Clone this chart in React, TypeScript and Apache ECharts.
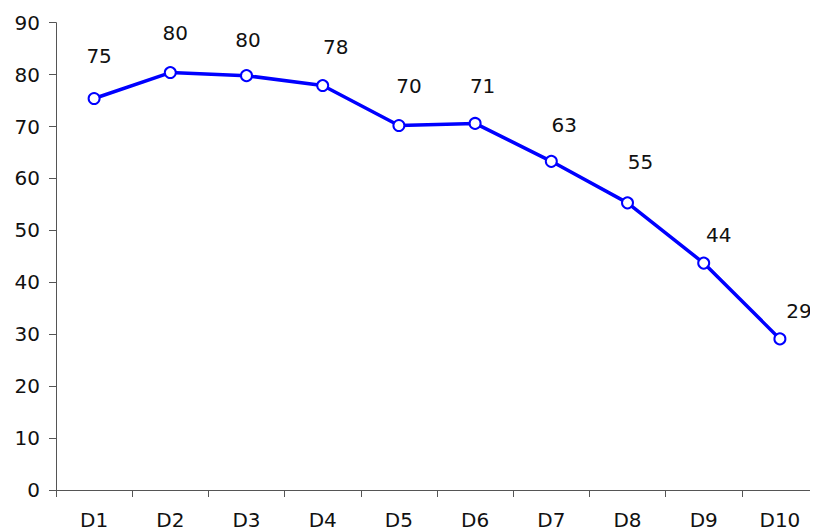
import React, { useEffect, useRef } from "react";
import * as echarts from "echarts";

const categories = ["D1", "D2", "D3", "D4", "D5", "D6", "D7", "D8", "D9", "D10"];
const values = [75.4, 80.4, 79.8, 77.9, 70.2, 70.6, 63.3, 55.3, 43.7, 29.1];
const yTicks = { min: 0, max: 90, interval: 10 };
// label offsets relative to each point (style only)
const labelOffsets: [number, number][] = [
  [5, -43], [5, -40], [1.5, -36], [13, -39], [10, -40],
  [7.5, -37], [13, -36], [13, -41], [15, -28], [19, -28],
];

export default function App() {
  const ref = useRef<HTMLDivElement>(null);
  useEffect(() => {
    if (!ref.current) return;
    const chart = echarts.init(ref.current, null, { renderer: "svg" });
    const font = "DejaVu Sans";
    chart.setOption({
      animation: false,
      grid: { left: 48, right: -10, top: 14.7, bottom: 38.3, containLabel: false },
      xAxis: {
        type: "category",
        data: categories,
        boundaryGap: true,
        axisLine: { lineStyle: { color: "#555", width: 1 } },
        axisTick: { show: true, alignWithLabel: false, length: 7, lineStyle: { color: "#555" } },
        axisLabel: { color: "#111", fontFamily: font, fontSize: 20, margin: 20 },
      },
      yAxis: {
        type: "value",
        min: yTicks.min,
        max: yTicks.max,
        interval: yTicks.interval,
        axisLine: { show: true, lineStyle: { color: "#555", width: 1 } },
        axisTick: { show: true, length: 7, lineStyle: { color: "#555" } },
        axisLabel: { color: "#111", fontFamily: font, fontSize: 20, margin: 16 },
        splitLine: { show: false },
      },
      series: [
        {
          type: "line",
          data: values.map((v, i) => ({
            value: v,
            label: { offset: labelOffsets[i] },
          })),
          lineStyle: { color: "#0000ff", width: 3.5 },
          itemStyle: { color: "#fff", borderColor: "#0000ff", borderWidth: 2 },
          symbol: "circle",
          symbolSize: 11,
          label: {
            show: true,
            position: "inside",
            color: "#111",
            fontFamily: font,
            fontSize: 20,
            formatter: (p: any) => String(Math.round(p.value)),
          },
        },
      ],
    });
    return () => chart.dispose();
  }, []);
  return <div ref={ref} style={{ width: 810, height: 522 }} />;
}
